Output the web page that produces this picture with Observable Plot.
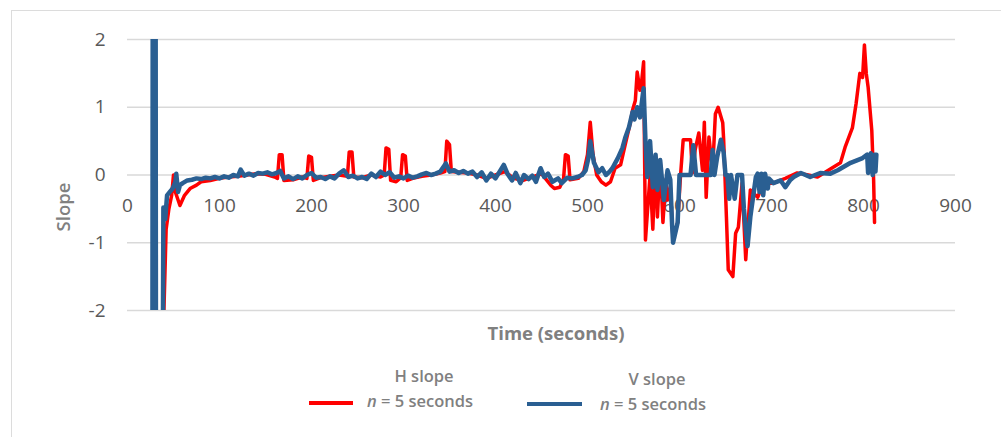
<!DOCTYPE html>
<html>
<head>
<meta charset="utf-8">
<script src="https://cdn.jsdelivr.net/npm/d3@7"></script>
<script src="https://cdn.jsdelivr.net/npm/@observablehq/plot@0.6"></script>
<style>
  html, body { margin: 0; padding: 0; background: #fff; overflow: hidden; }
  #wrap { position: relative; width: 1001px; height: 437px; font-family: "Open Sans", sans-serif; }
  #card { position: absolute; left: 11px; top: 10px; width: 1100px; height: 600px; border: 1.5px solid #dcdcdc; box-sizing: border-box; }
  #chart { position: absolute; left: 0; top: 0; }
  .lbl { position: absolute; color: #808080; white-space: nowrap; }
  .sw { position: absolute; height: 4px; }
</style>
</head>
<body>
<div id="wrap">
  <div id="card"></div>
  <div id="chart"></div>
</div>
<script>
// ---- data ----
const xTicks = [0, 100, 200, 300, 400, 500, 600, 700, 800, 900];
const yTicks = [-2, -1, 0, 1, 2];

const hTime = [39, 42, 45, 48, 50, 52, 57, 62, 68, 75, 80, 90, 100, 110, 120, 130, 140, 150, 160, 163, 165, 168, 170, 180, 190, 195, 197, 200, 202, 210, 220, 230, 239, 241, 244, 246, 255, 265, 275, 279, 281, 284, 286, 292, 297, 299, 302, 304, 310, 320, 330, 340, 345, 347, 350, 352, 360, 370, 380, 390, 400, 410, 420, 430, 440, 450, 460, 464, 470, 474, 476, 479, 481, 490, 496, 500, 503, 506, 510, 515, 520, 525, 530, 536, 541, 547, 549, 552, 554, 557, 559, 561, 563, 568, 571, 574, 576, 579, 582, 585, 587, 590, 593, 598, 601, 604, 612, 614, 617, 621, 625, 627, 629, 632, 636, 639, 642, 647, 648, 651, 653, 658, 661, 664, 668, 672, 677, 685, 691, 702, 715, 728, 740, 750, 764, 775, 780, 788, 792, 796, 799, 801, 803, 805, 809, 811, 812];
const hSlope = [-2.3, -0.8, -0.5, -0.3, 0.0, -0.25, -0.45, -0.3, -0.2, -0.15, -0.1, -0.08, -0.05, -0.03, -0.02, 0.0, 0.02, 0.01, -0.03, -0.05, 0.3, 0.3, -0.08, -0.07, -0.03, -0.05, 0.28, 0.26, -0.08, -0.04, -0.02, 0.0, -0.02, 0.34, 0.34, -0.03, -0.04, 0.0, -0.03, 0.0, 0.4, 0.38, -0.08, -0.1, -0.04, 0.3, 0.28, -0.08, -0.05, -0.02, 0.0, 0.03, 0.05, 0.5, 0.45, 0.05, 0.04, 0.03, 0.0, -0.05, 0.0, 0.05, -0.05, -0.08, -0.03, 0.02, -0.15, -0.2, -0.18, -0.05, 0.3, 0.28, -0.07, -0.05, 0.05, 0.3, 0.78, 0.3, 0.0, -0.1, -0.15, -0.1, 0.1, 0.15, 0.45, 0.8, 0.96, 1.1, 1.52, 1.25, 1.4, 1.67, -0.96, 0.0, -0.8, 0.27, -0.62, 0.22, -0.7, -0.07, -0.37, -0.18, -0.96, -0.7, -0.03, 0.52, 0.52, 0.03, 0.37, 0.62, 0.07, 0.78, -0.33, 0.56, 0.07, 0.9, 1.0, 0.77, 0.52, -0.62, -1.4, -1.5, -0.86, -0.77, -0.12, -1.25, -0.22, -0.33, -0.12, -0.12, -0.05, 0.03, 0.0, -0.03, 0.09, 0.18, 0.41, 0.7, 1.06, 1.5, 1.44, 1.92, 1.5, 1.3, 0.66, -0.07, -0.7];

const vTime = [27, 27.5, 30.5, 31, 38, 39, 41, 43, 46, 49, 52, 53, 55, 57, 60, 65, 70, 75, 80, 85, 90, 95, 100, 105, 110, 115, 120, 123, 127, 132, 137, 142, 147, 152, 157, 162, 166, 170, 175, 180, 185, 190, 195, 200, 205, 210, 215, 220, 225, 230, 235, 240, 245, 250, 255, 260, 265, 270, 275, 280, 285, 290, 295, 300, 305, 310, 315, 320, 325, 330, 335, 340, 346, 350, 355, 360, 365, 370, 375, 380, 385, 390, 395, 400, 405, 409, 413, 418, 422, 427, 431, 436, 440, 444, 449, 453, 457, 462, 468, 472, 478, 483, 489, 494, 498, 501, 503, 507, 512, 516, 520, 524, 527, 533, 538, 541, 545, 549, 551, 554, 557, 561, 563, 565, 568, 571, 574, 576, 579, 583, 587, 590, 592, 593, 598, 600, 603, 609, 612, 615, 618, 628, 634, 636, 638, 641, 645, 648, 650, 652, 654, 656, 660, 663, 668, 670, 672, 674, 677, 683, 685, 687, 689, 691, 693, 696, 697, 702, 710, 715, 720, 724, 732, 742, 753, 764, 772, 786, 799, 804, 805, 808, 810, 812, 813, 814];
const vSlope = [-4, 4, 4, -4, -4, -0.48, -0.65, -0.3, -0.25, -0.2, -0.1, 0.02, -0.25, -0.15, -0.12, -0.08, -0.07, -0.05, -0.06, -0.04, -0.05, -0.03, -0.05, -0.02, -0.04, 0.0, -0.02, 0.08, -0.01, 0.02, -0.01, 0.03, 0.02, 0.04, 0.01, 0.03, 0.06, -0.05, -0.02, -0.06, -0.02, -0.05, 0.0, 0.03, -0.04, -0.03, -0.06, -0.02, -0.05, 0.02, 0.07, -0.03, -0.01, -0.05, -0.03, -0.06, 0.02, -0.03, 0.05, 0.0, 0.04, -0.04, -0.02, -0.05, -0.01, -0.04, -0.02, 0.01, 0.03, 0.0, 0.02, 0.05, 0.17, 0.05, 0.07, 0.03, 0.06, 0.02, 0.05, -0.03, 0.04, -0.08, 0.02, -0.05, 0.06, 0.15, 0.02, -0.08, 0.03, -0.12, 0.0, -0.06, -0.01, -0.1, 0.1, -0.03, 0.02, -0.1, -0.05, -0.12, -0.04, -0.05, -0.03, 0.0, 0.07, 0.25, 0.5, 0.18, 0.04, 0.1, 0.0, 0.05, 0.1, 0.25, 0.4, 0.55, 0.7, 0.93, 0.82, 1.0, 0.85, 1.28, 0.5, -0.03, 0.5, -0.18, 0.3, -0.22, 0.22, -0.37, 0.07, -0.07, -0.75, -1.0, -0.7, 0.0, 0.0, 0.0, 0.0, 0.44, 0.0, 0.0, 0.0, 0.37, 0.0, 0.27, 0.52, 0.33, 0.0, 0.0, -0.35, 0.0, -0.35, 0.0, 0.0, -0.5, -0.8, -1.05, -0.62, -0.03, 0.02, -0.25, 0.02, -0.3, 0.02, -0.2, -0.05, -0.12, -0.08, -0.18, -0.08, -0.03, 0.03, -0.03, 0.03, 0.02, 0.07, 0.18, 0.25, 0.3, 0.03, 0.32, 0.0, 0.3, 0.05, 0.3];

const hData = hTime.map((t, i) => ({t, v: hSlope[i]}));
const vData = vTime.map((t, i) => ({t, v: vSlope[i]}));

const chart = Plot.plot({
  width: 1001,
  height: 437,
  marginLeft: 127,
  marginRight: 46,
  marginTop: 39,
  marginBottom: 127,
  style: {fontFamily: "'Open Sans', sans-serif", background: "transparent"},
  x: {domain: [0, 900], axis: null},
  y: {domain: [-2, 2], axis: null},
  marks: [
    Plot.gridY(yTicks, {stroke: "#d9d9d9", strokeOpacity: 1, strokeWidth: 1.5}),
    Plot.axisY(yTicks, {tickSize: 0, tickPadding: 22, fontSize: 19, fill: "#595959", tickFormat: d => String(d), label: null}),
    Plot.text(xTicks, {x: d => d, y: 0, dy: 31, text: d => String(d), fontSize: 19, fill: "#595959"}),
    Plot.line(hData, {x: "t", y: "v", stroke: "#ff0000", strokeWidth: 3.5, clip: true, strokeLinejoin: "round"}),
    Plot.line(vData, {x: "t", y: "v", stroke: "#2a5f92", strokeWidth: 4.5, clip: true, strokeLinejoin: "round"})
  ]
});
document.getElementById("chart").appendChild(chart);

const wrap = document.getElementById("wrap");
function addLabel(html, style) {
  const d = document.createElement("div");
  d.className = "lbl";
  d.innerHTML = html;
  Object.assign(d.style, style);
  wrap.appendChild(d);
  return d;
}
function addSwatch(color, left, width, top) {
  const d = document.createElement("div");
  d.className = "sw";
  Object.assign(d.style, {background: color, left: left + "px", width: width + "px", top: top + "px"});
  wrap.appendChild(d);
}
// axis titles
addLabel("Slope", {left: "62px", top: "207px", fontSize: "18.5px", fontWeight: "600", transform: "translate(-50%,-50%) rotate(-90deg)"});
addLabel("Time (seconds)", {left: "556px", top: "332px", fontSize: "18.5px", fontWeight: "700", transform: "translate(-50%,-50%)"});
// legend
addSwatch("#ff0000", 309, 44, 401);
addLabel("H slope", {left: "424px", top: "375px", fontSize: "16.5px", fontWeight: "600", transform: "translate(-50%,-50%)"});
addLabel("<i>n</i> = 5 seconds", {left: "367px", top: "400px", fontSize: "16.5px", fontWeight: "600", transform: "translate(0,-50%)"});
addSwatch("#2a5f92", 527, 55, 402);
addLabel("V slope", {left: "657px", top: "378px", fontSize: "16.5px", fontWeight: "600", transform: "translate(-50%,-50%)"});
addLabel("<i>n</i> = 5 seconds", {left: "600px", top: "403px", fontSize: "16.5px", fontWeight: "600", transform: "translate(0,-50%)"});
</script>
</body>
</html>
